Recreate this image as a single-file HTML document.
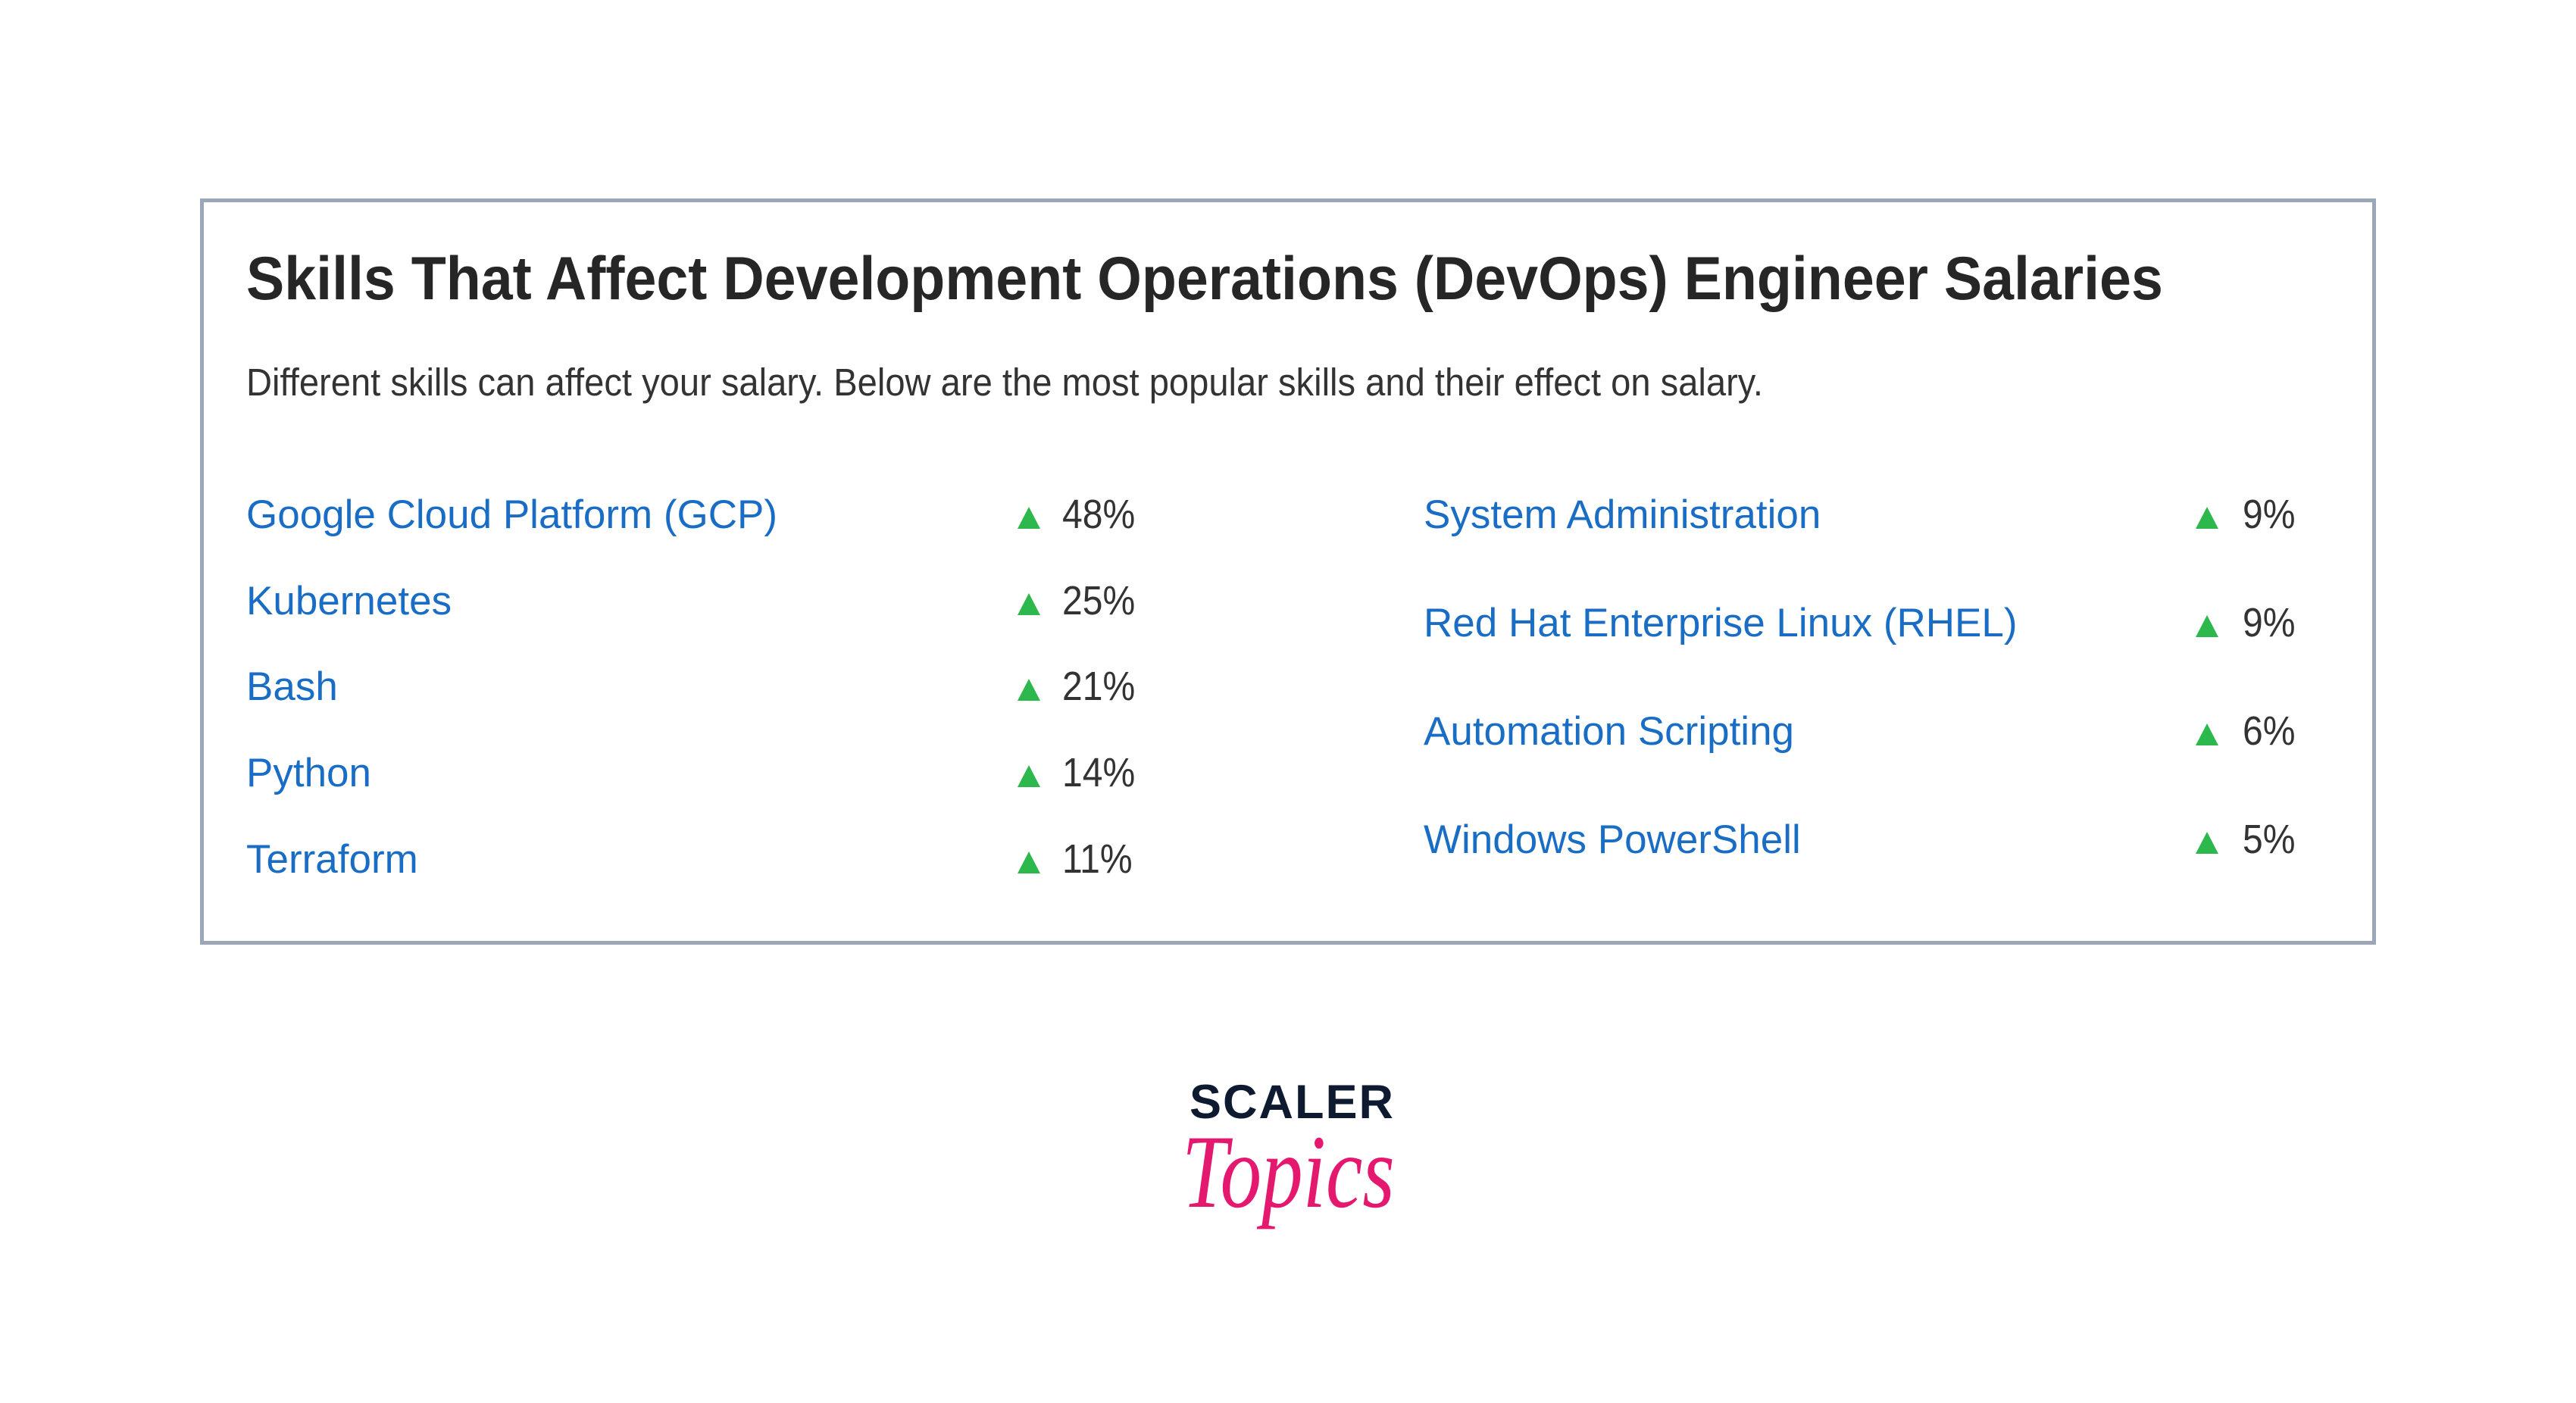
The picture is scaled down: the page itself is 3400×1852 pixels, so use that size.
<!DOCTYPE html>
<html>
<head>
<meta charset="utf-8">
<style>
  html, body { margin:0; padding:0; background:#ffffff; }
  body { width:3400px; height:1852px; position:relative; overflow:hidden; font-family:"Liberation Sans", Arial, sans-serif; }
  .abs { position:absolute; white-space:nowrap; line-height:1; }
  .box { position:absolute; left:264px; top:262px; width:2872px; height:985px; box-sizing:border-box; border:5px solid #9ba6b9; background:#fff; }
  .title { font-size:81px; font-weight:bold; color:#262626; transform-origin:0 0; transform:scaleX(0.93); }
  .sub { font-size:51px; color:#333333; transform-origin:0 0; transform:scaleX(0.924); }
  .lab { font-size:53px; color:#1a6dc4; }
  .pct { font-size:54px; color:#333333; transform-origin:0 0; transform:scaleX(0.89); }
  .tri { position:absolute; width:0; height:0; border-left:15px solid transparent; border-right:15px solid transparent; border-bottom:29px solid #2db84d; }
  .scaler { font-size:63px; font-weight:bold; color:#0d1a30; letter-spacing:2px; }
  .topics { font-family:"Liberation Serif", serif; font-style:italic; font-size:138px; color:#e5186f; transform-origin:0 0; transform:scaleX(0.79); }
</style>
</head>
<body>
  <div class="box"></div>

  <div class="abs title" style="left:325px; top:328px;">Skills That Affect Development Operations (DevOps) Engineer Salaries</div>
  <div class="abs sub" style="left:325px; top:479px;">Different skills can affect your salary. Below are the most popular skills and their effect on salary.</div>

  <!-- Left column -->
  <div class="abs lab" style="left:325px; top:653px;">Google Cloud Platform (GCP)</div>
  <div class="tri" style="left:1343px; top:669px;"></div>
  <div class="abs pct" style="left:1402px; top:652px;">48%</div>

  <div class="abs lab" style="left:325px; top:767px;">Kubernetes</div>
  <div class="tri" style="left:1343px; top:783px;"></div>
  <div class="abs pct" style="left:1402px; top:766px;">25%</div>

  <div class="abs lab" style="left:325px; top:880px;">Bash</div>
  <div class="tri" style="left:1343px; top:896px;"></div>
  <div class="abs pct" style="left:1402px; top:879px;">21%</div>

  <div class="abs lab" style="left:325px; top:994px;">Python</div>
  <div class="tri" style="left:1343px; top:1010px;"></div>
  <div class="abs pct" style="left:1402px; top:993px;">14%</div>

  <div class="abs lab" style="left:325px; top:1108px;">Terraform</div>
  <div class="tri" style="left:1343px; top:1124px;"></div>
  <div class="abs pct" style="left:1402px; top:1107px;">11%</div>

  <!-- Right column -->
  <div class="abs lab" style="left:1879px; top:653px;">System Administration</div>
  <div class="tri" style="left:2898px; top:669px;"></div>
  <div class="abs pct" style="left:2960px; top:652px;">9%</div>

  <div class="abs lab" style="left:1879px; top:796px;">Red Hat Enterprise Linux (RHEL)</div>
  <div class="tri" style="left:2898px; top:812px;"></div>
  <div class="abs pct" style="left:2960px; top:795px;">9%</div>

  <div class="abs lab" style="left:1879px; top:939px;">Automation Scripting</div>
  <div class="tri" style="left:2898px; top:955px;"></div>
  <div class="abs pct" style="left:2960px; top:938px;">6%</div>

  <div class="abs lab" style="left:1879px; top:1082px;">Windows PowerShell</div>
  <div class="tri" style="left:2898px; top:1098px;"></div>
  <div class="abs pct" style="left:2960px; top:1081px;">5%</div>

  <!-- Logo -->
  <div class="abs scaler" style="left:1570px; top:1424px;">SCALER</div>
  <div class="abs topics" style="left:1560px; top:1478px;">Topics</div>
</body>
</html>
